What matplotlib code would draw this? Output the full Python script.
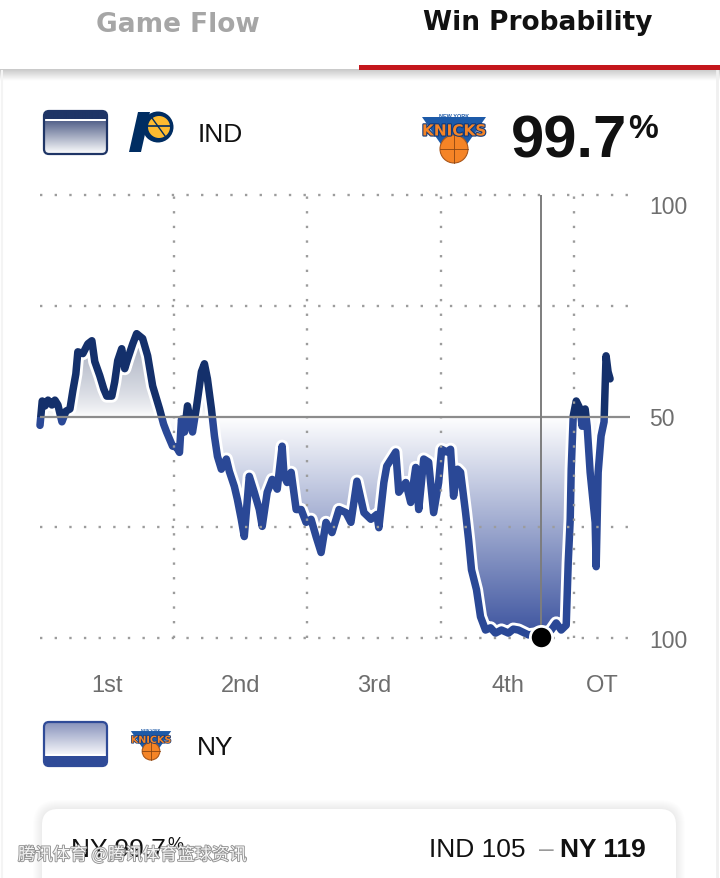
import numpy as np
import matplotlib.pyplot as plt
import matplotlib.patheffects as pe
from matplotlib.patches import Rectangle, Polygon, FancyBboxPatch, Circle
from matplotlib.colors import to_rgb, to_rgba

plt.rcParams['font.family'] = ['Liberation Sans', 'DejaVu Sans', 'Noto Sans CJK SC']

# game clock (minutes, 48 regulation + 5 OT) and Indiana win probability (%)
minutes = [0.0, 0.2, 0.45, 0.72, 1.07, 1.34, 1.61, 1.97, 2.33, 2.69,
           2.95, 3.22, 3.40, 3.85, 4.30, 4.66, 4.92, 5.37, 5.73, 6.00,
           6.45, 6.71, 6.98, 7.34, 7.61, 7.88, 8.33, 8.68, 9.22, 9.67,
           10.12, 10.47, 10.74, 11.10, 11.37, 11.91, 12.26, 12.53, 12.71, 12.98,
           13.25, 13.70, 14.06, 14.50, 14.77, 15.04, 15.40, 15.67, 15.94, 16.29,
           16.74, 17.01, 17.46, 17.73, 18.08, 18.35, 18.80, 19.25, 19.70, 19.96,
           20.41, 20.86, 21.31, 21.75, 21.93, 22.20, 22.56, 23.01, 23.46, 23.90,
           24.35, 24.80, 25.25, 25.69, 26.23, 26.86, 27.48, 27.93, 28.47, 29.10,
           29.72, 30.26, 30.44, 30.89, 31.15, 31.96, 32.23, 32.86, 33.30, 33.75,
           34.02, 34.47, 34.91, 35.36, 35.81, 36.08, 36.53, 36.88, 37.15, 37.51,
           37.78, 38.23, 38.50, 38.76, 39.21, 39.57, 40.02, 40.47, 40.91, 41.45,
           42.08, 42.52, 42.97, 43.87, 44.49, 45.03, 45.93, 46.37, 46.82, 47.27,
           47.45, 47.63, 47.72, 47.90, 48.17, 48.52, 48.70, 48.97, 49.15, 49.42,
           49.87, 49.96, 50.14, 50.40, 50.67, 50.85, 51.03, 51.21]
ind_prob = [48.0, 53.5, 52.4, 53.7, 52.6, 53.7, 52.6, 48.8, 51.2, 51.7,
            55.8, 59.6, 64.6, 64.2, 66.4, 67.1, 62.4, 59.2, 56.2, 54.6,
            54.6, 57.8, 62.6, 65.3, 60.8, 63.0, 66.4, 68.7, 67.6, 63.7,
            56.9, 54.0, 51.7, 48.3, 46.5, 43.3, 43.1, 41.9, 49.4, 46.5,
            52.4, 46.5, 52.2, 60.1, 61.9, 58.5, 51.7, 45.6, 41.0, 38.1,
            40.4, 37.6, 34.2, 31.3, 26.8, 22.9, 36.5, 32.9, 29.0, 25.2,
            32.9, 35.8, 33.6, 43.3, 36.5, 35.1, 37.4, 29.0, 29.0, 26.1,
            26.8, 22.9, 19.3, 26.1, 23.8, 29.0, 28.3, 26.1, 35.4, 28.3,
            26.8, 27.9, 24.9, 35.1, 38.8, 42.0, 32.9, 35.1, 30.6, 38.5,
            29.0, 40.4, 39.7, 28.3, 35.1, 42.6, 42.0, 42.6, 32.0, 38.1,
            37.4, 28.3, 22.2, 15.4, 10.9, 4.8, 1.8, 2.3, 1.1, 1.8,
            1.1, 2.0, 1.8, 0.7, 0.9, 0.3, 1.8, 3.4, 1.8, 2.9,
            17.0, 26.8, 38.1, 50.1, 53.5, 51.7, 47.8, 51.7, 47.8, 37.4,
            26.1, 16.1, 37.4, 45.6, 48.8, 63.7, 60.1, 58.5]

quarter_labels = ['1st', '2nd', '3rd', '4th', 'OT']
quarter_mid = [6, 18, 30, 42, 50.5]
quarter_ends = [12, 24, 36, 48]
game_end = 53
hover_minute = 45.03
hover_ind_prob = 0.3
ny_win_text = '99.7'
ind_score = 105
ny_score = 119

W, H = 720, 879
fig = plt.figure(figsize=(W / 100, H / 100), dpi=100)
fig.patch.set_facecolor('white')

# background layer in pixel coordinates
bg = fig.add_axes([0, 0, 1, 1], zorder=0)
bg.axis('off')


def vgrad(x0, x1, y0, y1, c0, c1, clip=None, z=1):
    n = 64
    t = np.linspace(0, 1, n)
    a, b = np.array(to_rgba(c0)), np.array(to_rgba(c1))
    arr = (a[None, :] * (1 - t)[:, None] + b[None, :] * t[:, None]).reshape(n, 1, 4)
    im = bg.imshow(arr, extent=(x0, x1, y1, y0), origin='upper', aspect='auto',
                   interpolation='bilinear', zorder=z)
    if clip is not None:
        im.set_clip_path(clip)
    return im


# header
bg.text(178, 32, 'Game Flow', ha='center', va='baseline', fontsize=19,
        fontweight='bold', color='#a6a6a6', family='DejaVu Sans')
bg.text(538, 30, 'Win Probability', ha='center', va='baseline', fontsize=19,
        fontweight='bold', color='#111111', family='DejaVu Sans')
vgrad(0, W, 70, 82, (0, 0, 0, 0.22), (0, 0, 0, 0))
bg.add_patch(Rectangle((359, 66), W - 359, 4.5, fc='#c4161c', ec='none', zorder=3))


def icon(x0, y0, w, h, rows, edge):
    frame = FancyBboxPatch((x0, y0), w, h, boxstyle='round,pad=0,rounding_size=5',
                           fc='none', ec='none', transform=bg.transData)
    bg.add_patch(frame)
    for ya, yb, ca, cb in rows:
        vgrad(x0, x0 + w, ya, yb, ca, cb, clip=frame, z=2)
    bg.add_patch(FancyBboxPatch((x0, y0), w, h, boxstyle='round,pad=0,rounding_size=5',
                                fc='none', ec=edge, lw=1.6, zorder=3))


def knicks(cx, top, s):
    tri = Polygon([(cx - 32 * s, top + 8 * s), (cx + 32 * s, top + 8 * s), (cx, top + 54 * s)],
                  closed=True, fc='#1d5aa8', ec='none', zorder=3)
    bg.add_patch(tri)
    bg.add_patch(Circle((cx, top + 40 * s), 14 * s, fc='#f58426', ec='#a9561a', lw=0.8, zorder=4))
    bg.plot([cx - 14 * s, cx + 14 * s], [top + 40 * s, top + 40 * s], color='#8a4512', lw=0.6, zorder=5)
    bg.plot([cx, cx], [top + 26 * s, top + 54 * s], color='#8a4512', lw=0.6, zorder=5)
    bg.text(cx, top + 22 * s, 'KNICKS', ha='center', va='center', fontsize=11 * s,
            fontweight='bold', color='#f58426', zorder=5, family='DejaVu Sans',
            path_effects=[pe.withStroke(linewidth=1.6 * s, foreground='#123a7a')])
    bg.text(cx, top + 6 * s, 'NEW YORK', ha='center', va='center', fontsize=4 * s,
            fontweight='bold', color='#1d5aa8', zorder=5)


# legend: Indiana
icon(44, 112, 63, 43, [(112, 120, '#1f3566', '#1f3566'), (120, 122, 'white', 'white'),
                       (122, 155, '#56648c', '#ffffff')], '#1f3566')
bg.add_patch(Circle((158, 128), 15.5, fc='#002d62', ec='none', zorder=3))
bg.add_patch(Circle((159, 128), 11, fc='#fdbb30', ec='none', zorder=4))
bg.plot([148, 170], [127, 127], color='#002d62', lw=1.2, zorder=5)
bg.plot([152, 165], [119, 137], color='#002d62', lw=1.0, zorder=5)
bg.add_patch(Polygon([(129, 153), (141, 153), (150, 113), (138, 113)], closed=True,
                     fc='#002d62', ec='none', zorder=5))
bg.text(198, 142, 'IND', ha='left', va='baseline', fontsize=19, color='#111111')

knicks(454, 110, 1.0)
big = bg.text(511, 158, ny_win_text, ha='left', va='baseline', fontsize=43,
              fontweight='bold', color='#111111')

# legend: New York
icon(44, 723, 63, 44, [(723, 755, '#8792bb', '#f3f4f9'), (755, 757, 'white', 'white'),
                       (757, 767, '#2f4b98', '#2f4b98')], '#2f4b98')
knicks(151, 727, 0.63)
bg.text(197, 755, 'NY', ha='left', va='baseline', fontsize=19, color='#111111')

# bottom card
for i in range(1, 10):
    bg.add_patch(FancyBboxPatch((42 - i, 810 - i), 634 + 2 * i, 120 + 2 * i,
                                boxstyle='round,pad=0,rounding_size=%d' % (16 + i),
                                fc='black', ec='none', alpha=0.007, zorder=1))
bg.add_patch(FancyBboxPatch((42, 810), 634, 120, boxstyle='round,pad=0,rounding_size=16',
                            fc='white', ec='none', zorder=2))
card_left = bg.text(71, 857, 'NY ' + ny_win_text, ha='left', va='baseline', fontsize=19,
                    color='#111111', zorder=3)
bg.text(646, 857, 'NY %d' % ny_score, ha='right', va='baseline', fontsize=19,
        fontweight='bold', color='#111111', zorder=3)
bg.text(546, 857, '\u2013', ha='center', va='baseline', fontsize=19, color='#9a9a9a', zorder=3)
bg.text(429, 857, 'IND %d' % ind_score, ha='left', va='baseline', fontsize=19,
        color='#111111', zorder=3)

# faint screen edges
bg.plot([717, 717], [72, H], color='#f0f0f0', lw=2)
bg.plot([1.5, 1.5], [72, H], color='#f4f4f4', lw=1.5)

bg.set_xlim(0, W)
bg.set_ylim(H, 0)

# ---- chart: x 40..630 px, y 196..639 px
ax = fig.add_axes([40 / W, 1 - 639 / H, 590 / W, 443 / H], zorder=1)
ax.set_facecolor('none')

N = 500
lev = np.linspace(0, 100, N)
white = np.ones(3)
top_c = np.array(to_rgb('#4f5d80'))
bot_c = np.array(to_rgb('#3b529e'))
grad = np.empty((N, 1, 3))
for i, v in enumerate(lev):
    if v >= 50:
        f = ((v - 50) / 50) ** 0.7
        grad[i, 0] = white + (top_c - white) * f
    else:
        f = (50 - v) / 50
        grad[i, 0] = white + (bot_c - white) * f
img = ax.imshow(grad, extent=[0, game_end, 0, 100], origin='lower', aspect='auto',
                interpolation='bilinear', zorder=1)
verts = [(minutes[0], 50)] + list(zip(minutes, ind_prob)) + [(minutes[-1], 50)]
area = Polygon(verts, closed=True, fc='none', ec='none', transform=ax.transData)
ax.add_patch(area)
img.set_clip_path(area)

outline = [pe.Stroke(linewidth=9.5, foreground='white'), pe.Normal()]
for color, lo, hi in [('#14306b', 50, 120), ('#2a4896', -20, 50)]:
    ln, = ax.plot(minutes, ind_prob, color=color, lw=5.4, solid_joinstyle='round',
                  solid_capstyle='round', zorder=3, path_effects=outline)
    ln.set_clip_path(Rectangle((-2, lo), game_end + 4, hi - lo, transform=ax.transData))

dot = dict(color='#9c9c9c', lw=1.7, linestyle=(0, (1, 5.2)), zorder=4, clip_on=False)
for y in [0, 25, 75, 100]:
    ax.plot([0, game_end], [y, y], **dot)
for x in quarter_ends:
    ax.plot([x, x], [0, 100], **dot)
ax.plot([0, game_end], [50, 50], color='#8c8c8c', lw=1.6, zorder=5, solid_capstyle='butt')
ax.plot([hover_minute] * 2, [0, 100], color='#7d7d7d', lw=1.4, zorder=5)
ax.plot(hover_minute, hover_ind_prob, 'o', ms=16, color='black', mec='white', mew=2,
        zorder=6, clip_on=False)

ax.set_xlim(0, game_end)
ax.set_ylim(0, 100)
for s in ax.spines.values():
    s.set_visible(False)
ax.set_xticks(quarter_mid, quarter_labels)
ax.tick_params(axis='x', length=0, pad=26, labelsize=17, labelcolor='#6e6e6e')
ax.yaxis.tick_right()
ax.set_yticks([0, 50, 100], ['100', '50', '100'])
ax.tick_params(axis='y', length=0, pad=14, labelsize=16.5, labelcolor='#6e6e6e')
ax.get_yticklabels()[2].set_va('top')

# superscript percent signs placed after measuring the numbers
fig.canvas.draw()
r = fig.canvas.get_renderer()
inv = bg.transData.inverted()
x_big = inv.transform((big.get_window_extent(r).x1, 0))[0]
bg.text(x_big + 1, 138, '%', ha='left', va='baseline', fontsize=24, fontweight='bold',
        color='#111111')
x_card = inv.transform((card_left.get_window_extent(r).x1, 0))[0]
bg.text(x_card + 1, 850, '%', ha='left', va='baseline', fontsize=13, color='#111111', zorder=3)

bg.text(18, 861, '腾讯体育 @腾讯体育篮球资讯', ha='left', va='baseline', fontsize=12.5,
        color='white', alpha=0.92, zorder=6, family=['Noto Sans CJK SC', 'DejaVu Sans'],
        path_effects=[pe.withStroke(linewidth=1.3, foreground='#8a8a8a')])

fig.savefig('out.png', dpi=100, facecolor='white')
